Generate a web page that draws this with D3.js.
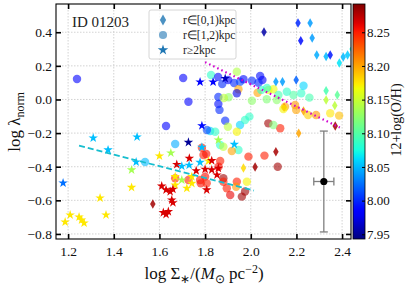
<!DOCTYPE html>
<html>
<head>
<meta charset="utf-8">
<script src="https://cdn.jsdelivr.net/npm/d3@7"></script>
<style>
body{margin:0;background:#fff;}
svg{display:block;font-family:"Liberation Serif","Times New Roman",serif;}
</style>
</head>
<body>
<svg id="chart" width="407" height="286"></svg>
<script>
// ticks and ranges
var xTicks = [1.2, 1.4, 1.6, 1.8, 2.0, 2.2, 2.4];
var yTicks = [-0.8, -0.6, -0.4, -0.2, 0.0, 0.2, 0.4];
var cbTicks = [7.95, 8.00, 8.05, 8.10, 8.15, 8.20, 8.25];
var xDomain = [1.147, 2.439];
var yDomain = [-0.830, 0.568];
var zDomain = [7.943, 8.292];
var legendLabels = ["r\u2208[0,1)kpc", "r\u2208[1,2)kpc", "r\u22652kpc"];

// [log Sigma, log lambda, 12+log(O/H)]
var innerPts = [
  [2.058,0.402,7.955],[2.207,0.455,8.000],[2.260,0.455,8.040],[2.219,0.350,7.990],
  [2.269,0.366,8.040],[2.289,0.265,8.045],[2.330,0.256,8.050],[2.348,0.265,7.995],
  [2.388,0.217,8.065],[2.405,0.253,8.050],[2.424,0.265,8.055],[2.444,0.300,8.075],
  [2.199,0.116,8.020],[2.110,0.106,8.040],[2.139,0.106,8.040],[2.330,0.052,8.095],
  [2.379,0.027,8.105],[2.330,-0.003,8.145],[2.368,-0.036,8.145],[2.146,-0.046,8.205],
  [2.231,-0.068,8.200],[2.370,-0.158,8.282],[2.210,-0.201,8.200],[2.110,-0.311,8.280],
  [1.968,-0.407,8.180],[2.019,-0.402,8.282],[1.571,-0.622,8.282]
];

var midPts = [
  [1.239,0.122,7.985],[1.704,0.128,7.985],[1.826,0.146,8.085],[1.857,0.134,7.990],
  [1.875,0.092,8.000],[1.901,0.116,7.985],[1.939,0.165,8.140],[1.927,0.098,8.000],
  [1.953,0.106,8.010],[1.968,0.120,7.990],[2.005,0.112,8.000],[2.041,0.140,7.990],
  [2.051,0.116,7.985],[2.034,0.100,8.000],[1.946,0.061,8.200],[1.939,0.037,7.975],
  [1.903,0.013,8.125],[2.005,-0.007,8.125],[2.030,0.040,8.200],[2.046,0.057,8.085],
  [2.070,0.001,8.120],[2.077,0.057,8.160],[2.099,0.061,8.165],[2.121,0.027,8.095],
  [2.158,0.046,8.085],[2.187,0.027,8.100],[2.114,-0.003,8.125],[2.150,-0.043,8.200],
  [2.194,-0.033,8.205],[2.221,0.037,8.085],[2.231,0.082,8.060],[2.257,0.011,8.095],
  [2.251,-0.092,8.185],[2.286,-0.092,8.205],[2.348,-0.082,8.175],[2.387,-0.096,8.190],
  [2.199,-0.062,8.200],[2.077,-0.142,8.282],[2.129,-0.171,8.250],[1.727,-0.013,7.985],
  [1.858,-0.027,7.990],[1.858,0.015,8.000],[1.882,0.009,8.145],[1.629,-0.158,7.985],
  [1.888,-0.126,8.000],[1.953,-0.152,8.060],[1.994,-0.102,8.085],[1.975,-0.122,8.085],
  [1.900,-0.162,8.145],[1.939,-0.192,8.170],[1.822,-0.187,8.060],[1.844,-0.192,8.085],
  [1.863,-0.062,8.000],[1.808,-0.181,8.010],[2.099,-0.152,8.120],[2.143,-0.057,8.170],
  [1.669,-0.265,8.045],[1.537,-0.372,8.050],[1.866,-0.271,8.085],[1.880,-0.281,8.145],
  [1.946,-0.300,8.085],[1.917,-0.306,8.200],[1.990,-0.340,8.250],[2.060,-0.334,8.250],
  [1.866,-0.366,8.250],[1.859,-0.400,8.255],[2.118,-0.400,8.282],[1.880,-0.469,8.282],
  [1.939,-0.489,8.250],[1.983,-0.489,8.170],[1.786,-0.287,8.250],[1.793,-0.330,8.250],
  [1.805,-0.324,8.255],[1.669,-0.469,8.250],[1.727,-0.479,8.250],[1.778,-0.479,8.250],
  [1.800,-0.459,8.255],[1.781,-0.499,8.255],[1.961,-0.578,8.282],[1.910,-0.568,8.260],
  [1.936,-0.519,8.205],[1.975,-0.548,8.282],[1.895,-0.528,8.250],[1.880,-0.489,8.250],
  [1.807,-0.499,8.250],[2.071,0.068,8.085]
];

var outerPts = [
  [1.310,-0.229,8.052],[1.375,-0.300,8.052],[1.502,-0.223,8.052],[1.178,-0.497,8.025],
  [1.498,-0.372,8.052],[1.478,-0.419,8.135],[1.478,-0.523,8.175],[1.340,-0.586,8.175],
  [1.187,-0.729,8.175],[1.209,-0.687,8.175],[1.248,-0.699,8.175],[1.259,-0.717,8.175],
  [1.270,-0.735,8.175],[1.366,-0.687,8.175],[1.778,0.104,7.985],[1.835,0.104,7.985],
  [1.888,0.125,7.962],[1.786,-0.156,7.990],[1.727,-0.255,7.950],[1.858,-0.241,8.135],
  [1.928,-0.267,8.052],[1.786,-0.284,8.052],[1.600,-0.336,8.175],[1.650,-0.318,8.135],
  [1.731,-0.350,8.265],[1.676,-0.387,8.265],[1.698,-0.397,8.052],[1.730,-0.391,8.052],
  [1.778,-0.374,8.052],[1.761,-0.424,8.265],[1.800,-0.415,8.265],[1.829,-0.419,8.265],
  [1.858,-0.409,8.265],[1.815,-0.366,8.175],[1.829,-0.364,8.265],[1.852,-0.449,8.265],
  [1.669,-0.459,8.175],[1.698,-0.479,8.135],[1.742,-0.459,8.175],[1.720,-0.528,8.175],
  [1.669,-0.509,8.175],[1.742,-0.499,8.175],[1.610,-0.515,8.265],[1.629,-0.538,8.265],
  [1.647,-0.548,8.265],[1.659,-0.534,8.265],[1.654,-0.598,8.265],[1.659,-0.614,8.265],
  [1.617,-0.673,8.265],[1.639,-0.667,8.265],[1.629,-0.684,8.265],[1.807,-0.538,8.265]
];

// fits and typical error
var fitInner = [[1.80, 0.222], [2.39, -0.167]];
var fitOuter = [[1.248, -0.274], [2.014, -0.542]];
var errPoint = [2.32, -0.488];
var errX = 0.044, errY = 0.30;

var margin = {left: 56, top: 4, right: 56, bottom: 47};
var W = 407, H = 286;
var pw = W - margin.left - margin.right, ph = H - margin.top - margin.bottom;

var svg = d3.select("#chart");
var x = d3.scaleLinear().domain(xDomain).range([margin.left, margin.left + pw]);
var y = d3.scaleLinear().domain(yDomain).range([margin.top + ph, margin.top]);

// jet colormap
var jetR = d3.scaleLinear().domain([0,0.35,0.66,0.89,1]).range([0,0,1,1,0.5]).clamp(true);
var jetG = d3.scaleLinear().domain([0,0.125,0.375,0.64,0.91,1]).range([0,0,1,1,0,0]).clamp(true);
var jetB = d3.scaleLinear().domain([0,0.11,0.34,0.65,1]).range([0.5,1,1,0,0]).clamp(true);
var zNorm = d3.scaleLinear().domain(zDomain).range([0,1]).clamp(true);
function jet(z){
  var t = zNorm(z);
  return d3.rgb(jetR(t)*255, jetG(t)*255, jetB(t)*255).formatHex();
}

svg.append("clipPath").attr("id","clip").append("rect")
  .attr("x", margin.left).attr("y", margin.top).attr("width", pw).attr("height", ph);

// grid
var grid = svg.append("g");
grid.selectAll(".gx").data(xTicks).enter().append("line")
  .attr("x1", function(d){return x(d);}).attr("x2", function(d){return x(d);})
  .attr("y1", margin.top).attr("y2", margin.top + ph);
grid.selectAll(".gy").data(yTicks).enter().append("line")
  .attr("y1", function(d){return y(d);}).attr("y2", function(d){return y(d);})
  .attr("x1", margin.left).attr("x2", margin.left + pw);
grid.selectAll("line").attr("stroke","#c8c8c8").attr("stroke-width",0.8).attr("stroke-dasharray","1.5,1.5");

var plot = svg.append("g").attr("clip-path","url(#clip)");

function drawSet(data, type, size, alpha){
  plot.append("g").selectAll("path").data(data).enter().append("path")
    .attr("d", d3.symbol().type(type).size(size))
    .attr("transform", function(d){return "translate(" + x(d[0]) + "," + y(d[1]) + ")";})
    .attr("fill", function(d){return jet(d[2]);})
    .attr("fill-opacity", alpha);
}
drawSet(innerPts, d3.symbolDiamond, 26, 0.85);
drawSet(midPts, d3.symbolCircle, 56, 0.6);
drawSet(outerPts, d3.symbolStar, 28, 1);

var line = d3.line().x(function(d){return x(d[0]);}).y(function(d){return y(d[1]);});
plot.append("path").attr("d", line(fitInner)).attr("fill","none")
  .attr("stroke","#d000d0").attr("stroke-width",2.2).attr("stroke-dasharray","1.5,3");
plot.append("path").attr("d", line(fitOuter)).attr("fill","none")
  .attr("stroke","#17becf").attr("stroke-width",1.8).attr("stroke-dasharray","6,3");

// error bar
var eb = svg.append("g").attr("stroke","#7f7f7f").attr("stroke-width",1.3);
var ex = x(errPoint[0]), ey = y(errPoint[1]);
eb.append("line").attr("x1",ex).attr("x2",ex).attr("y1",y(errPoint[1]+errY)).attr("y2",y(errPoint[1]-errY));
eb.append("line").attr("y1",ey).attr("y2",ey).attr("x1",x(errPoint[0]-errX)).attr("x2",x(errPoint[0]+errX));
[errPoint[1]+errY, errPoint[1]-errY].forEach(function(v){
  eb.append("line").attr("x1",ex-4).attr("x2",ex+4).attr("y1",y(v)).attr("y2",y(v));
});
[errPoint[0]-errX, errPoint[0]+errX].forEach(function(v){
  eb.append("line").attr("x1",x(v)).attr("x2",x(v)).attr("y1",ey-4).attr("y2",ey+4);
});
svg.append("circle").attr("cx",ex).attr("cy",ey).attr("r",3.6).attr("fill","#000");

// axes
var fmt = d3.format(".1f");
var axB = svg.append("g").attr("transform","translate(0," + (margin.top+ph) + ")")
  .call(d3.axisBottom(x).tickValues(xTicks).tickFormat(fmt).tickSize(-5).tickPadding(7));
var axL = svg.append("g").attr("transform","translate(" + margin.left + ",0)")
  .call(d3.axisLeft(y).tickValues(yTicks).tickFormat(fmt).tickSize(-5).tickPadding(4));
var axT = svg.append("g").attr("transform","translate(0," + margin.top + ")")
  .call(d3.axisTop(x).tickValues(xTicks).tickFormat("").tickSize(-5));
var axR = svg.append("g").attr("transform","translate(" + (margin.left+pw) + ",0)")
  .call(d3.axisRight(y).tickValues(yTicks).tickFormat("").tickSize(-5));
[axB, axL, axT, axR].forEach(function(a){
  a.select(".domain").remove();
  a.selectAll(".tick line").attr("stroke","#000").attr("stroke-width",1.6);
  a.selectAll("text").attr("font-family","Liberation Serif, serif").attr("font-size",13.5).attr("fill","#111");
});
svg.append("rect").attr("x",margin.left).attr("y",margin.top).attr("width",pw).attr("height",ph)
  .attr("fill","none").attr("stroke","#000").attr("stroke-width",1.1);

// legend
var lg = svg.append("g");
lg.append("rect").attr("x",149).attr("y",10).attr("width",87).attr("height",49).attr("rx",2)
  .attr("fill","#fff").attr("fill-opacity",0.8).attr("stroke","#cccccc").attr("stroke-width",0.8);
var legTypes = [[d3.symbolDiamond, 34, 0.8], [d3.symbolCircle, 52, 0.6], [d3.symbolStar, 34, 1]];
legendLabels.forEach(function(lab, i){
  var ly = 20 + i * 15;
  lg.append("path").attr("d", d3.symbol().type(legTypes[i][0]).size(legTypes[i][1]))
    .attr("transform","translate(163," + ly + ")").attr("fill","#1f77b4").attr("fill-opacity",legTypes[i][2]);
  lg.append("text").attr("x",183).attr("y",ly+4).attr("font-size",11.5).attr("fill","#222").text(lab);
});

svg.append("text").attr("x",72).attr("y",27).attr("font-size",15).attr("fill","#222").text("ID 01203");

// axis titles
var xt = svg.append("text").attr("x",204).attr("y",279).attr("text-anchor","middle").attr("font-size",17).attr("fill","#111");
xt.append("tspan").text("log \u03A3");
xt.append("tspan").attr("font-size",12).attr("dy",4).text("\u2217");
xt.append("tspan").attr("dy",-4).text("/(");
xt.append("tspan").attr("font-style","italic").text("M");
xt.append("tspan").attr("font-size",12).attr("dy",4).text("\u2299");
xt.append("tspan").attr("dy",-4).text(" pc");
xt.append("tspan").attr("font-size",12).attr("dy",-6).text("\u22122");
xt.append("tspan").attr("dy",6).text(")");

var yt = svg.append("text").attr("transform","translate(20,122) rotate(-90)")
  .attr("text-anchor","middle").attr("font-size",17).attr("fill","#111");
yt.append("tspan").text("log \u03BB");
yt.append("tspan").attr("font-size",12).attr("dy",4).text("norm");

// colorbar
var cbX = 353, cbW = 12;
var cy = d3.scaleLinear().domain(zDomain).range([margin.top + ph, margin.top]);
var grad = svg.append("defs").append("linearGradient").attr("id","jetgrad")
  .attr("x1","0").attr("y1","1").attr("x2","0").attr("y2","0");
d3.range(0, 1.0001, 0.02).forEach(function(t){
  grad.append("stop").attr("offset", t).attr("stop-color", jet(zNorm.invert(t)));
});
svg.append("rect").attr("x",cbX).attr("y",margin.top).attr("width",cbW).attr("height",ph)
  .attr("fill","url(#jetgrad)").attr("stroke","#000").attr("stroke-width",0.8);
var axC = svg.append("g").attr("transform","translate(" + (cbX+cbW) + ",0)")
  .call(d3.axisRight(cy).tickValues(cbTicks).tickFormat(d3.format(".2f")).tickSize(-3).tickPadding(2));
axC.select(".domain").remove();
axC.selectAll(".tick line").attr("stroke","#000").attr("stroke-width",1);
axC.selectAll("text").attr("font-family","Liberation Serif, serif").attr("font-size",13).attr("fill","#111");

svg.append("text").attr("transform","translate(401,120) rotate(-90)").attr("text-anchor","middle")
  .attr("font-size",14).attr("fill","#111").text("12+log(O/H)");
</script>
</body>
</html>
